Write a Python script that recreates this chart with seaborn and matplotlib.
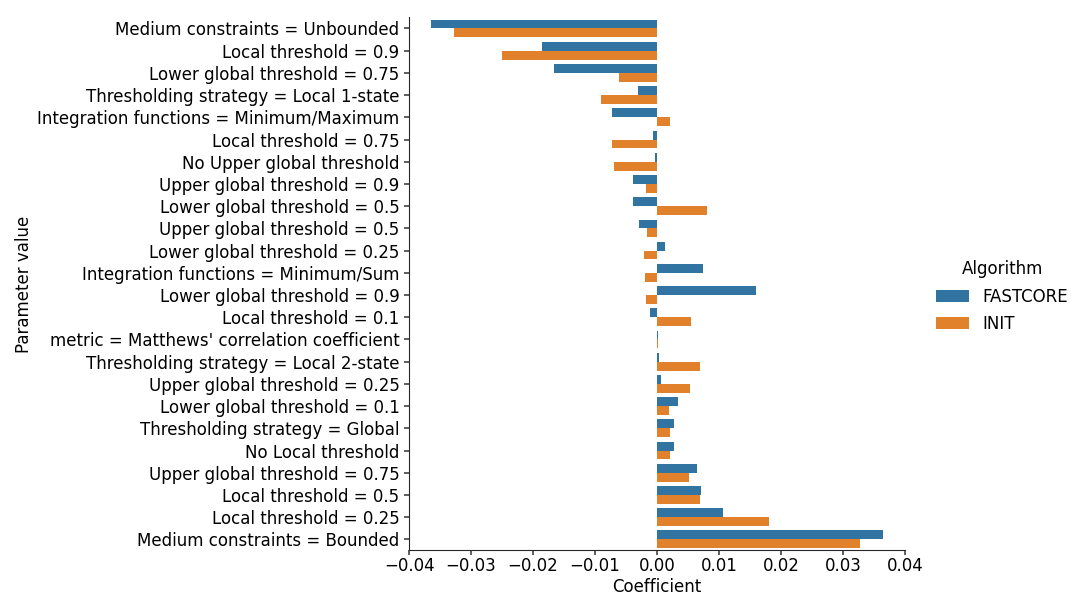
import matplotlib
matplotlib.use("Agg")
import matplotlib.pyplot as plt
import seaborn as sns
import pandas as pd

parameters = [
    "Medium constraints = Unbounded",
    "Local threshold = 0.9",
    "Lower global threshold = 0.75",
    "Thresholding strategy = Local 1-state",
    "Integration functions = Minimum/Maximum",
    "Local threshold = 0.75",
    "No Upper global threshold",
    "Upper global threshold = 0.9",
    "Lower global threshold = 0.5",
    "Upper global threshold = 0.5",
    "Lower global threshold = 0.25",
    "Integration functions = Minimum/Sum",
    "Lower global threshold = 0.9",
    "Local threshold = 0.1",
    "metric = Matthews' correlation coefficient",
    "Thresholding strategy = Local 2-state",
    "Upper global threshold = 0.25",
    "Lower global threshold = 0.1",
    "Thresholding strategy = Global",
    "No Local threshold",
    "Upper global threshold = 0.75",
    "Local threshold = 0.5",
    "Local threshold = 0.25",
    "Medium constraints = Bounded",
]

fastcore = [
    -0.0365, -0.0186, -0.0166, -0.0031, -0.0073, -0.0007, -0.0003, -0.0039,
    -0.0039, -0.0029, 0.0013, 0.0074, 0.0160, -0.0011, 0.0001, 0.0003,
    0.0006, 0.0034, 0.0027, 0.0027, 0.0065, 0.0071, 0.0106, 0.0365,
]
init = [
    -0.0327, -0.0250, -0.0061, -0.0090, 0.0021, -0.0073, -0.0069, -0.0018,
    0.0081, -0.0016, -0.0021, -0.0019, -0.0018, 0.0055, 0.0001, 0.0069,
    0.0053, 0.0019, 0.0021, 0.0021, 0.0052, 0.0069, 0.0181, 0.0327,
]
algorithms = ["FASTCORE", "INIT"]

df = pd.DataFrame({
    "Parameter value": parameters * 2,
    "Coefficient": fastcore + init,
    "Algorithm": [algorithms[0]] * len(parameters) + [algorithms[1]] * len(parameters),
})

sns.set_style("ticks")
plt.rcParams["font.family"] = ["DejaVu Sans"]
fs = 12

fig, ax = plt.subplots(figsize=(10.71, 5.99), dpi=100)
fig.subplots_adjust(left=0.382, right=0.845, top=0.971, bottom=0.081)

sns.barplot(data=df, y="Parameter value", x="Coefficient", hue="Algorithm",
            orient="h", order=parameters, hue_order=algorithms, ax=ax,
            linewidth=0)

ax.set_xlim(-0.04, 0.04)
ax.set_xticks([-0.04, -0.03, -0.02, -0.01, 0.0, 0.01, 0.02, 0.03, 0.04])
ax.tick_params(labelsize=fs, colors="#333333", labelcolor="black",
               length=3.5, width=1.1, pad=3.5)
ax.tick_params(axis="x", pad=1.5)
ax.set_xlabel("Coefficient", fontsize=fs, color="black", labelpad=2)
ax.set_ylabel("Parameter value", fontsize=fs, color="black", labelpad=3)
sns.despine(ax=ax)

handles, labels = ax.get_legend_handles_labels()
ax.get_legend().remove()
leg = fig.legend(handles, labels, title="Algorithm", loc="center left",
                 bbox_to_anchor=(0.860, 0.505), frameon=False, fontsize=fs,
                 title_fontsize=fs, labelspacing=0.55)
plt.setp(leg.get_texts(), color="black")
leg.get_title().set_color("black")

fig.savefig("out.png", dpi=100)
